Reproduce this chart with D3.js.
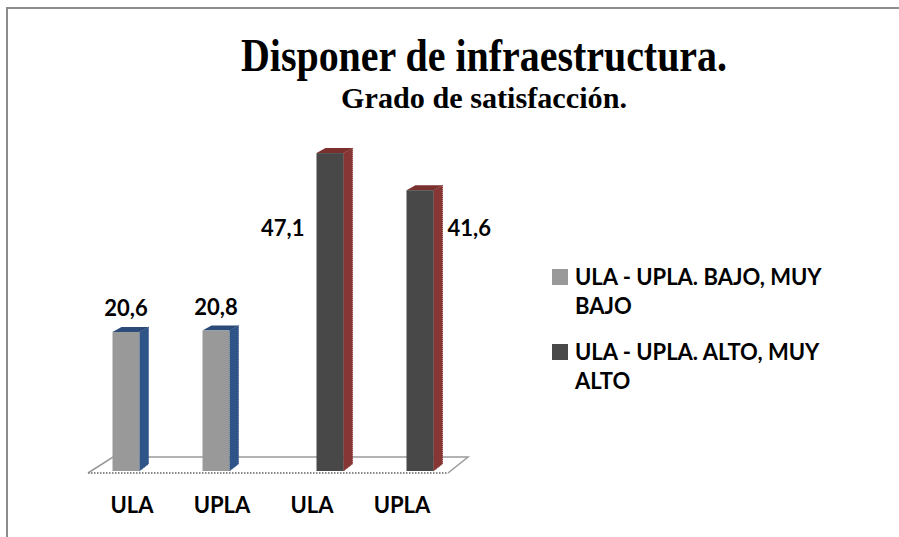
<!DOCTYPE html>
<html>
<head>
<meta charset="utf-8">
<script src="https://cdn.jsdelivr.net/npm/d3@7"></script>
<style>
  body { margin: 0; background: #fff; }
  text { font-family: Lato, "Open Sans", sans-serif; font-weight: bold; }
</style>
</head>
<body>
<svg id="chart"></svg>
<script>
// Chart size
const width = 899;
const height = 537;

// Data
const categories = ["ULA", "UPLA", "ULA", "UPLA"];
const seriesNames = ["ULA - UPLA. BAJO, MUY BAJO", "ULA - UPLA. ALTO, MUY ALTO"];
const bajoValues = [20.6, 20.8, null, null];
const altoValues = [null, null, 47.1, 41.6];
const valueLabels = ["20,6", "20,8", "47,1", "41,6"];

const seriesValues = [bajoValues, altoValues];
const frontColors = ["#999999", "#484848"];
const sideColors = ["#2f5487", "#853635"];
const topColors = ["#2a4a78", "#7a302f"];

const svg = d3.select("#chart")
  .attr("width", width)
  .attr("height", height);

// Frame (top and left edge only, as in the picture)
svg.append("path")
  .attr("d", `M7,${height} L7,8 L${width},8`)
  .attr("fill", "none")
  .attr("stroke", "#8c8c8c")
  .attr("stroke-width", 2);

// Titles
svg.append("text")
  .attr("x", 484).attr("y", 71)
  .attr("text-anchor", "middle")
  .attr("textLength", 486)
  .attr("lengthAdjust", "spacingAndGlyphs")
  .style("font-family", "'Liberation Serif', serif")
  .style("font-size", "46px")
  .text("Disponer de infraestructura.");

svg.append("text")
  .attr("x", 484).attr("y", 108)
  .attr("text-anchor", "middle")
  .attr("textLength", 286)
  .attr("lengthAdjust", "spacingAndGlyphs")
  .style("font-family", "'Liberation Serif', serif")
  .style("font-size", "29px")
  .text("Grado de satisfacción.");

// Scales
const x0 = d3.scaleBand()
  .domain(d3.range(categories.length))
  .range([88, 448]);

const x1 = d3.scaleBand()
  .domain(seriesNames)
  .range([-19, 29]);

const y = d3.scaleLinear()
  .domain([0, 50])
  .range([471, 133.5]);

const depthX = 9;
const depthY = -5;
const barW = 27;

// Floor
const floorY = y(0) + 2;
const floor = svg.append("g");
floor.append("path")
  .attr("d", `M${x0.range()[0]},${floorY} L${x0.range()[0] + 25},${floorY - 16} L${x0.range()[1] + 20},${floorY - 16} L${x0.range()[1]},${floorY}`)
  .attr("fill", "none")
  .attr("stroke", "#9a9a9a")
  .attr("stroke-width", 1.5);
floor.append("line")
  .attr("x1", x0.range()[0]).attr("x2", x0.range()[1])
  .attr("y1", floorY).attr("y2", floorY)
  .attr("stroke", "#8a8a8a")
  .attr("stroke-width", 2)
  .attr("stroke-dasharray", "1.5,1.5");

// Bars
const bars = [];
seriesValues.forEach((vals, s) => {
  vals.forEach((v, i) => {
    if (v !== null) bars.push({ s, i, v });
  });
});

const barG = svg.append("g");
bars.forEach(d => {
  const center = x0(d.i) + x0.bandwidth() / 2 + x1(seriesNames[d.s]) + x1.bandwidth() / 2;
  const left = center - barW / 2;
  const right = left + barW;
  const top = y(d.v);
  const bottom = y(0);

  // side face
  barG.append("polygon")
    .attr("points", [[right, top], [right + depthX, top + depthY], [right + depthX, bottom + depthY - 2], [right, bottom]].join(" "))
    .attr("fill", sideColors[d.s])
    .attr("stroke", sideColors[d.s])
    .attr("stroke-width", 1)
    .attr("stroke-dasharray", "1,1");

  // top face
  barG.append("polygon")
    .attr("points", [[left, top], [left + depthX, top + depthY], [right + depthX, top + depthY], [right, top]].join(" "))
    .attr("fill", topColors[d.s]);

  // front face
  barG.append("rect")
    .attr("x", left)
    .attr("y", top)
    .attr("width", barW)
    .attr("height", bottom - top)
    .attr("fill", frontColors[d.s]);

  // value label
  const lab = barG.append("text")
    .style("font-size", "22px")
    .text(valueLabels[d.i]);
  if (d.s === 0) {
    lab.attr("x", left + barW / 2).attr("y", top - 16).attr("text-anchor", "middle");
  } else if (d.i === 2) {
    lab.attr("x", left - 12).attr("y", y(34.8)).attr("text-anchor", "end");
  } else {
    lab.attr("x", right + depthX + 5).attr("y", y(34.8)).attr("text-anchor", "start");
  }
});

// Category labels
svg.append("g")
  .selectAll("text")
  .data(categories)
  .join("text")
  .attr("x", (d, i) => x0(i) + x0.bandwidth() / 2 - 1)
  .attr("y", 513)
  .attr("text-anchor", "middle")
  .style("font-size", "22px")
  .text(d => d);

// Legend
const legendLines = [["ULA - UPLA. BAJO, MUY", "BAJO"], ["ULA - UPLA. ALTO, MUY", "ALTO"]];
const legend = svg.append("g");
legendLines.forEach((lines, s) => {
  const top = 269 + s * 75;
  legend.append("rect")
    .attr("x", 552).attr("y", top)
    .attr("width", 16).attr("height", 16)
    .attr("fill", frontColors[s]);
  lines.forEach((t, k) => {
    legend.append("text")
      .attr("x", 575)
      .attr("y", top + 16 + k * 29)
      .style("font-size", "22px")
      .text(t);
  });
});
</script>
</body>
</html>
